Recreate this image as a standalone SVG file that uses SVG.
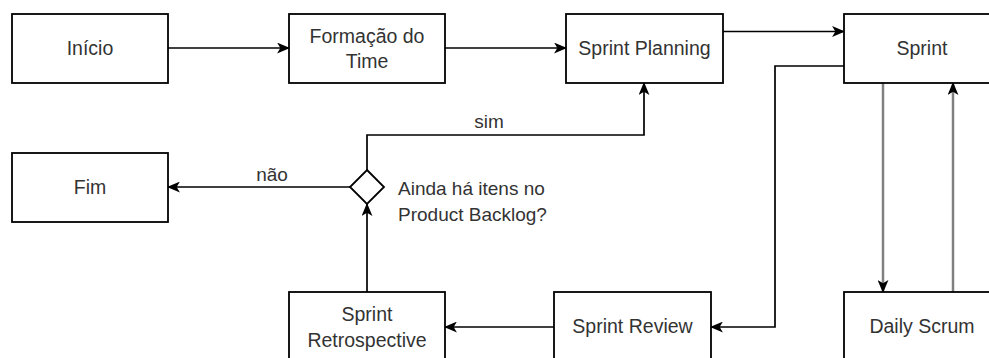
<svg xmlns="http://www.w3.org/2000/svg" width="989" height="358" viewBox="0 0 989 358">
<defs>
<style>
.box{fill:#fff;stroke:#000;stroke-width:1.8}
.t{font-family:"Liberation Sans",Arial,sans-serif;font-size:19.5px;fill:#333;text-anchor:middle}
.l{font-family:"Liberation Sans",Arial,sans-serif;font-size:19px;fill:#333}
.c{fill:none;stroke:#000;stroke-width:1.7}
.g{fill:none;stroke:#808080;stroke-width:2.5}
</style>
<marker id="a" viewBox="0 0 12 10" refX="11" refY="5" markerWidth="13" markerHeight="11" markerUnits="userSpaceOnUse" orient="auto">
<path d="M0,0 L12,5 L0,10 L3,5 Z" fill="#000"/>
</marker>
</defs>
<rect width="989" height="358" fill="#fff"/>
<g id="connectors">
<path class="c" d="M168,48 H289" marker-end="url(#a)"/>
<path class="c" d="M445,48 H566" marker-end="url(#a)"/>
<path class="c" d="M723,31.5 H844" marker-end="url(#a)"/>
<path class="c" d="M844,66 H775 V327 H711" marker-end="url(#a)"/>
<path class="g" d="M883,83 V292" marker-end="url(#a)"/>
<path class="g" d="M953,292 V83" marker-end="url(#a)"/>
<path class="c" d="M554,327 H445" marker-end="url(#a)"/>
<path class="c" d="M367,292 V204" marker-end="url(#a)"/>
<path class="c" d="M350,187 H168" marker-end="url(#a)"/>
<path class="c" d="M367,170 V135 H644 V83" marker-end="url(#a)"/>
<text class="l" x="272" y="181" text-anchor="middle">não</text>
<text class="l" x="489" y="128" text-anchor="middle">sim</text>
</g>
<g id="inicio"><rect class="box" x="12" y="14" width="156" height="69"/><text class="t" x="90" y="55">Início</text></g>
<g id="formacao"><rect class="box" x="289" y="14" width="156" height="69"/><text class="t" x="367" y="43">Formação do</text><text class="t" x="367" y="68">Time</text></g>
<g id="planning"><rect class="box" x="566" y="14" width="157" height="69"/><text class="t" x="644.5" y="55">Sprint Planning</text></g>
<g id="sprint"><rect class="box" x="844" y="14" width="156" height="69"/><text class="t" x="922" y="55">Sprint</text></g>
<g id="fim"><rect class="box" x="12" y="153" width="156" height="69"/><text class="t" x="90" y="194">Fim</text></g>
<g id="decisao"><path class="box" d="M367,170 L384,187 L367,204 L350,187 Z"/><text class="l" x="398" y="195">Ainda há itens no</text><text class="l" x="398" y="221">Product Backlog?</text></g>
<g id="retro"><rect class="box" x="289" y="292" width="156" height="69"/><text class="t" x="367" y="321">Sprint</text><text class="t" x="367" y="347">Retrospective</text></g>
<g id="review"><rect class="box" x="554" y="292" width="157" height="69"/><text class="t" x="632.5" y="333">Sprint Review</text></g>
<g id="daily"><rect class="box" x="844" y="292" width="156" height="69"/><text class="t" x="922" y="333">Daily Scrum</text></g>
</svg>
